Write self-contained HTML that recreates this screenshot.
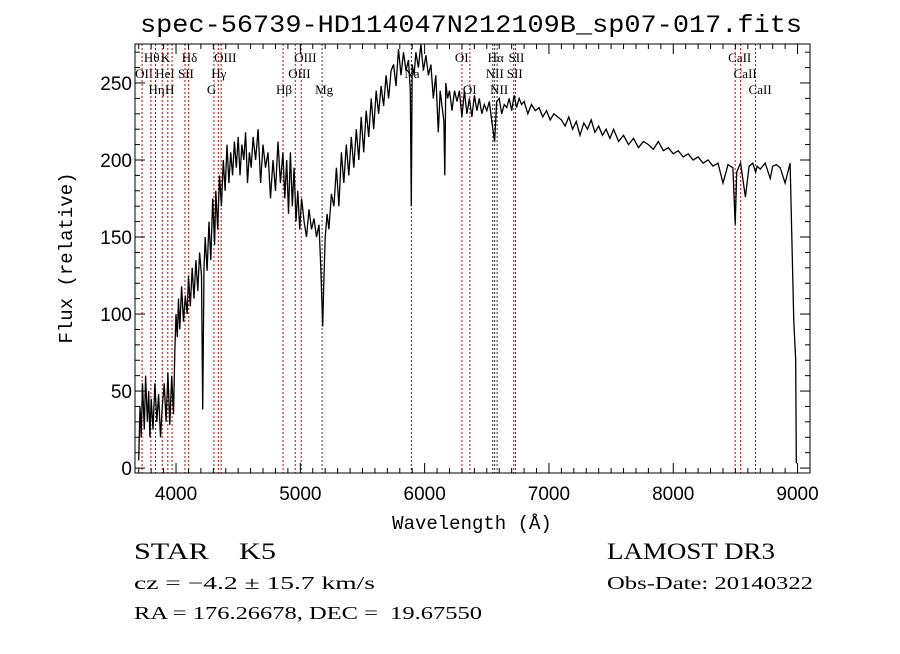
<!DOCTYPE html>
<html><head><meta charset="utf-8">
<style>
body{margin:0;background:#fff;}
svg text{font-family:"Liberation Sans",sans-serif;}
.ser{font-family:"Liberation Serif",serif;}
</style></head>
<body>
<svg id="chart" width="900" height="649" xmlns="http://www.w3.org/2000/svg">
<rect width="900" height="649" fill="#fff"/>
<text x="140" y="32" font-size="25" textLength="662" lengthAdjust="spacingAndGlyphs" style="font-family:'Liberation Mono',monospace">spec-56739-HD114047N212109B_sp07-017.fits</text>
<text x="472" y="529" font-size="19" text-anchor="middle" style="font-family:'Liberation Mono',monospace">Wavelength (Å)</text>
<text x="0" y="0" font-size="19" text-anchor="middle" transform="translate(72,258) rotate(-90)" style="font-family:'Liberation Mono',monospace">Flux (relative)</text>
<text x="134" y="559" font-size="23" class="ser" xml:space="preserve" textLength="142" lengthAdjust="spacingAndGlyphs">STAR    K5</text>
<text x="607" y="559" font-size="23" class="ser" textLength="168" lengthAdjust="spacingAndGlyphs">LAMOST DR3</text>
<text x="134" y="589" font-size="18" class="ser" textLength="241" lengthAdjust="spacingAndGlyphs">cz = −4.2 ± 15.7 km/s</text>
<text x="607" y="589" font-size="18" class="ser" textLength="206" lengthAdjust="spacingAndGlyphs">Obs-Date: 20140322</text>
<text x="134" y="619" font-size="18" class="ser" xml:space="preserve" textLength="348" lengthAdjust="spacingAndGlyphs">RA = 176.26678, DEC =  19.67550</text>
<g id="plot"></g>
</svg>
<script>
const wl=[3700,3710,3720,3730,3745,3755,3770,3780,3790,3800,3815,3830,3845,3860,3875,3890,3905,3920,3935,3950,3965,3980,3990,4000,4010,4020,4030,4045,4060,4075,4090,4100,4115,4130,4145,4160,4175,4190,4205,4215,4225,4235,4250,4265,4280,4295,4310,4320,4335,4350,4365,4380,4395,4410,4425,4440,4455,4470,4485,4500,4515,4530,4545,4560,4575,4590,4605,4620,4640,4660,4680,4700,4720,4740,4760,4780,4800,4820,4840,4860,4875,4890,4905,4920,4935,4950,4965,4980,4995,5010,5030,5050,5070,5090,5110,5130,5150,5165,5180,5188,5200,5215,5230,5250,5270,5290,5310,5330,5350,5370,5390,5410,5430,5450,5470,5490,5510,5530,5550,5570,5590,5610,5630,5650,5670,5690,5710,5730,5750,5770,5790,5810,5830,5850,5870,5885,5893,5900,5915,5930,5950,5970,5990,6010,6030,6050,6070,6090,6110,6125,6140,6155,6162,6170,6185,6200,6220,6240,6260,6280,6300,6320,6340,6360,6380,6400,6420,6440,6460,6480,6500,6520,6540,6563,6580,6600,6620,6640,6660,6680,6700,6720,6740,6760,6780,6800,6830,6860,6890,6920,6950,6980,7010,7040,7070,7100,7130,7160,7190,7220,7250,7280,7310,7340,7370,7400,7430,7460,7490,7520,7560,7600,7640,7680,7720,7760,7800,7840,7880,7920,7960,8000,8040,8080,8120,8160,8200,8240,8280,8320,8360,8400,8440,8480,8498,8510,8530,8542,8555,8580,8610,8640,8662,8675,8700,8740,8780,8800,8830,8860,8900,8940,8970,8985,8990,8995,9000];
const flux=[5,40,20,55,25,60,30,50,20,45,25,55,30,48,20,40,55,30,62,28,60,35,75,100,85,110,90,118,95,112,100,125,105,130,110,135,115,140,125,38,130,150,128,160,135,175,145,180,155,190,170,200,180,210,185,205,190,212,195,215,190,210,200,218,185,205,195,215,200,220,185,210,195,205,175,200,180,212,185,205,175,200,165,205,170,195,160,180,155,175,160,150,168,155,162,150,158,130,92,118,150,165,155,178,170,195,170,205,185,210,190,215,195,220,200,228,205,232,215,240,220,245,230,248,235,255,240,258,262,248,272,255,270,258,265,245,170,262,255,270,260,275,258,268,255,262,240,255,218,245,235,225,190,250,240,245,232,245,238,245,228,245,230,240,228,242,232,240,230,236,232,238,225,212,238,240,230,236,234,240,232,242,234,240,236,238,230,236,232,234,228,232,226,230,228,226,222,228,220,225,216,224,220,226,218,222,216,220,214,220,212,216,210,214,208,212,210,207,212,206,208,204,206,202,204,200,202,198,200,196,198,185,197,195,158,192,196,198,190,176,196,198,192,196,194,198,188,196,197,195,185,198,95,70,3];
const xTicks=[4000,5000,6000,7000,8000,9000];
const yTicks=[0,50,100,150,200,250];
const lineWl=[3727,3798,3835,3889,3934,3968,4072,4102,4305,4340,4363,4861,4959,5007,5175,5893,6300,6364,6548,6563,6583,6717,6731,8498,8542,8662];
const lineNames=["OII","Hθ","Hη","HeI","K","H","SII","Hδ","G","Hγ","OIII","Hβ","OIII","OIII","Mg","Na","OI","OI","NII","Hα","NII","SII","SII","CaII","CaII","CaII"];
const lineRow=[1,0,2,1,0,2,1,0,2,1,0,2,1,0,2,1,0,2,1,0,2,1,0,0,1,2];
const lineBlack=[5175,5893,6548,6563,6583];

const L=135,R=810,T=44,B=473,XMIN=3670,XMAX=9100,YMIN=-3.2,YMAX=275.3;
const xs=v=>L+(v-XMIN)/(XMAX-XMIN)*(R-L);
const ys=v=>B-(v-YMIN)/(YMAX-YMIN)*(B-T);
const NS="http://www.w3.org/2000/svg";
const g=document.getElementById('plot');
function mk(t,a){const e=document.createElementNS(NS,t);for(const k in a)e.setAttribute(k,a[k]);g.appendChild(e);return e;}

lineWl.forEach((w,i)=>{
  const e=mk('line',{x1:xs(w),x2:xs(w),y1:T,y2:B,stroke:lineBlack.includes(w)?'#333':'#c00000','stroke-width':1,'stroke-dasharray':'2,2'});
  
  
  const t=mk('text',{x:xs(w)-7,y:62+lineRow[i]*16,'font-size':13,class:'ser'});
  t.textContent=lineNames[i];
  
  
});

let d='';
wl.forEach((w,i)=>{d+=(i?'L':'M')+xs(w).toFixed(1)+','+ys(flux[i]).toFixed(1);});
const p=mk('path',{d:d,fill:'none',stroke:'#000','stroke-width':1.3});



const fr=mk('rect',{x:L,y:T,width:R-L,height:B-T,fill:'none',stroke:'#000','stroke-width':1});



for(let v=3700;v<=9100;v+=100){
  const maj=v%1000===0;
  const len=maj?10:5;
  mk('line',{x1:xs(v),x2:xs(v),y1:B,y2:B-len,stroke:'#000'});
  mk('line',{x1:xs(v),x2:xs(v),y1:T,y2:T+len,stroke:'#000'});
}
xTicks.forEach(v=>{
  const t=mk('text',{x:xs(v),y:B+27,'font-size':19,'text-anchor':'middle'});
  t.textContent=v;
  
  
});
for(let v=0;v<=270;v+=10){
  const maj=v%50===0;
  const len=maj?10:5;
  mk('line',{x1:L,x2:L+len,y1:ys(v),y2:ys(v),stroke:'#000'});
  mk('line',{x1:R,x2:R-len,y1:ys(v),y2:ys(v),stroke:'#000'});
}
yTicks.forEach(v=>{
  const t=mk('text',{x:L-3,y:ys(v)+7,'font-size':19,'text-anchor':'end'});
  t.textContent=v;
  
  
});
</script>
</body></html>
